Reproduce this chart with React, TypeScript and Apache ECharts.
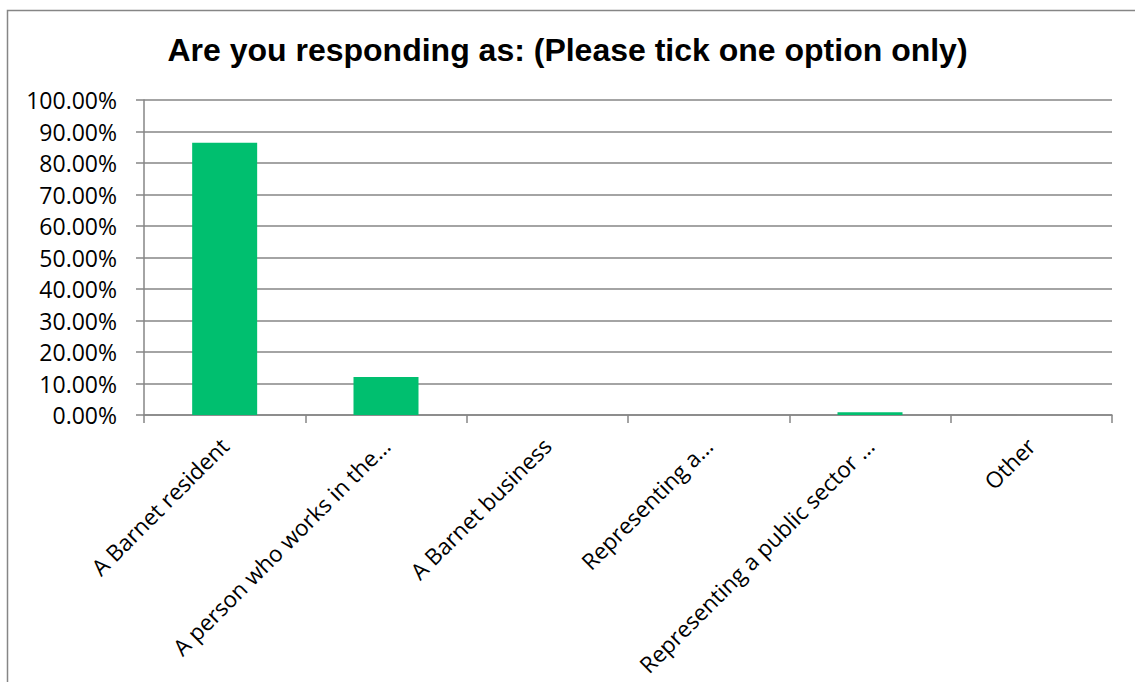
import React, { useEffect, useRef } from "react";
import * as echarts from "echarts";

const categories = [
  "A Barnet resident",
  "A person who works in the…",
  "A Barnet business",
  "Representing a…",
  "Representing a public sector …",
  "Other",
];
const values = [86.4, 12.1, 0, 0, 0.9, 0];
const titleText = "Are you responding as: (Please tick one option only)";

export default function App() {
  const ref = useRef<HTMLDivElement>(null);
  useEffect(() => {
    const chart = echarts.init(ref.current!, null, { renderer: "svg" });
    const labelFont = "'Open Sans', 'Noto Sans', sans-serif";
    chart.setOption({
      animation: false,
      backgroundColor: "#ffffff",
      title: {
        text: titleText,
        left: "center",
        top: 29,
        textStyle: {
          fontFamily: "'Liberation Sans', Arial, sans-serif",
          fontWeight: "bold",
          fontSize: 32,
          color: "#000",
        },
      },
      graphic: [
        {
          type: "rect",
          shape: { x: 7.5, y: 10.5, width: 1140, height: 700 },
          style: { fill: "none", stroke: "#868686", lineWidth: 1.5 },
          silent: true,
        },
      ],
      grid: { left: 144, right: 23, top: 100, bottom: 267, containLabel: false },
      xAxis: {
        type: "category",
        data: categories,
        axisLine: { lineStyle: { color: "#868686", width: 1.5 } },
        axisTick: { show: true, length: 8, lineStyle: { color: "#868686", width: 1.5 } },
        axisLabel: {
          rotate: 45,
          interval: 0,
          margin: 27,
          fontFamily: labelFont,
          fontSize: 22.5,
          color: "#000",
        },
      },
      yAxis: {
        type: "value",
        min: 0,
        max: 100,
        interval: 10,
        axisLine: { show: true, lineStyle: { color: "#868686", width: 1.5 } },
        axisTick: { show: true, length: 8, lineStyle: { color: "#868686", width: 1.5 } },
        splitLine: { lineStyle: { color: "#868686", width: 1.5 } },
        axisLabel: {
          margin: 27,
          fontFamily: labelFont,
          fontSize: 23,
          color: "#000",
          formatter: (v: number) => v.toFixed(2) + "%",
        },
      },
      series: [
        {
          type: "bar",
          data: values,
          barWidth: 65,
          itemStyle: { color: "#00BF6F" },
        },
      ],
    });
    return () => chart.dispose();
  }, []);
  return (
    <div
      ref={ref}
      style={{ position: "fixed", left: 0, top: 0, width: 1135, height: 682 }}
    />
  );
}
